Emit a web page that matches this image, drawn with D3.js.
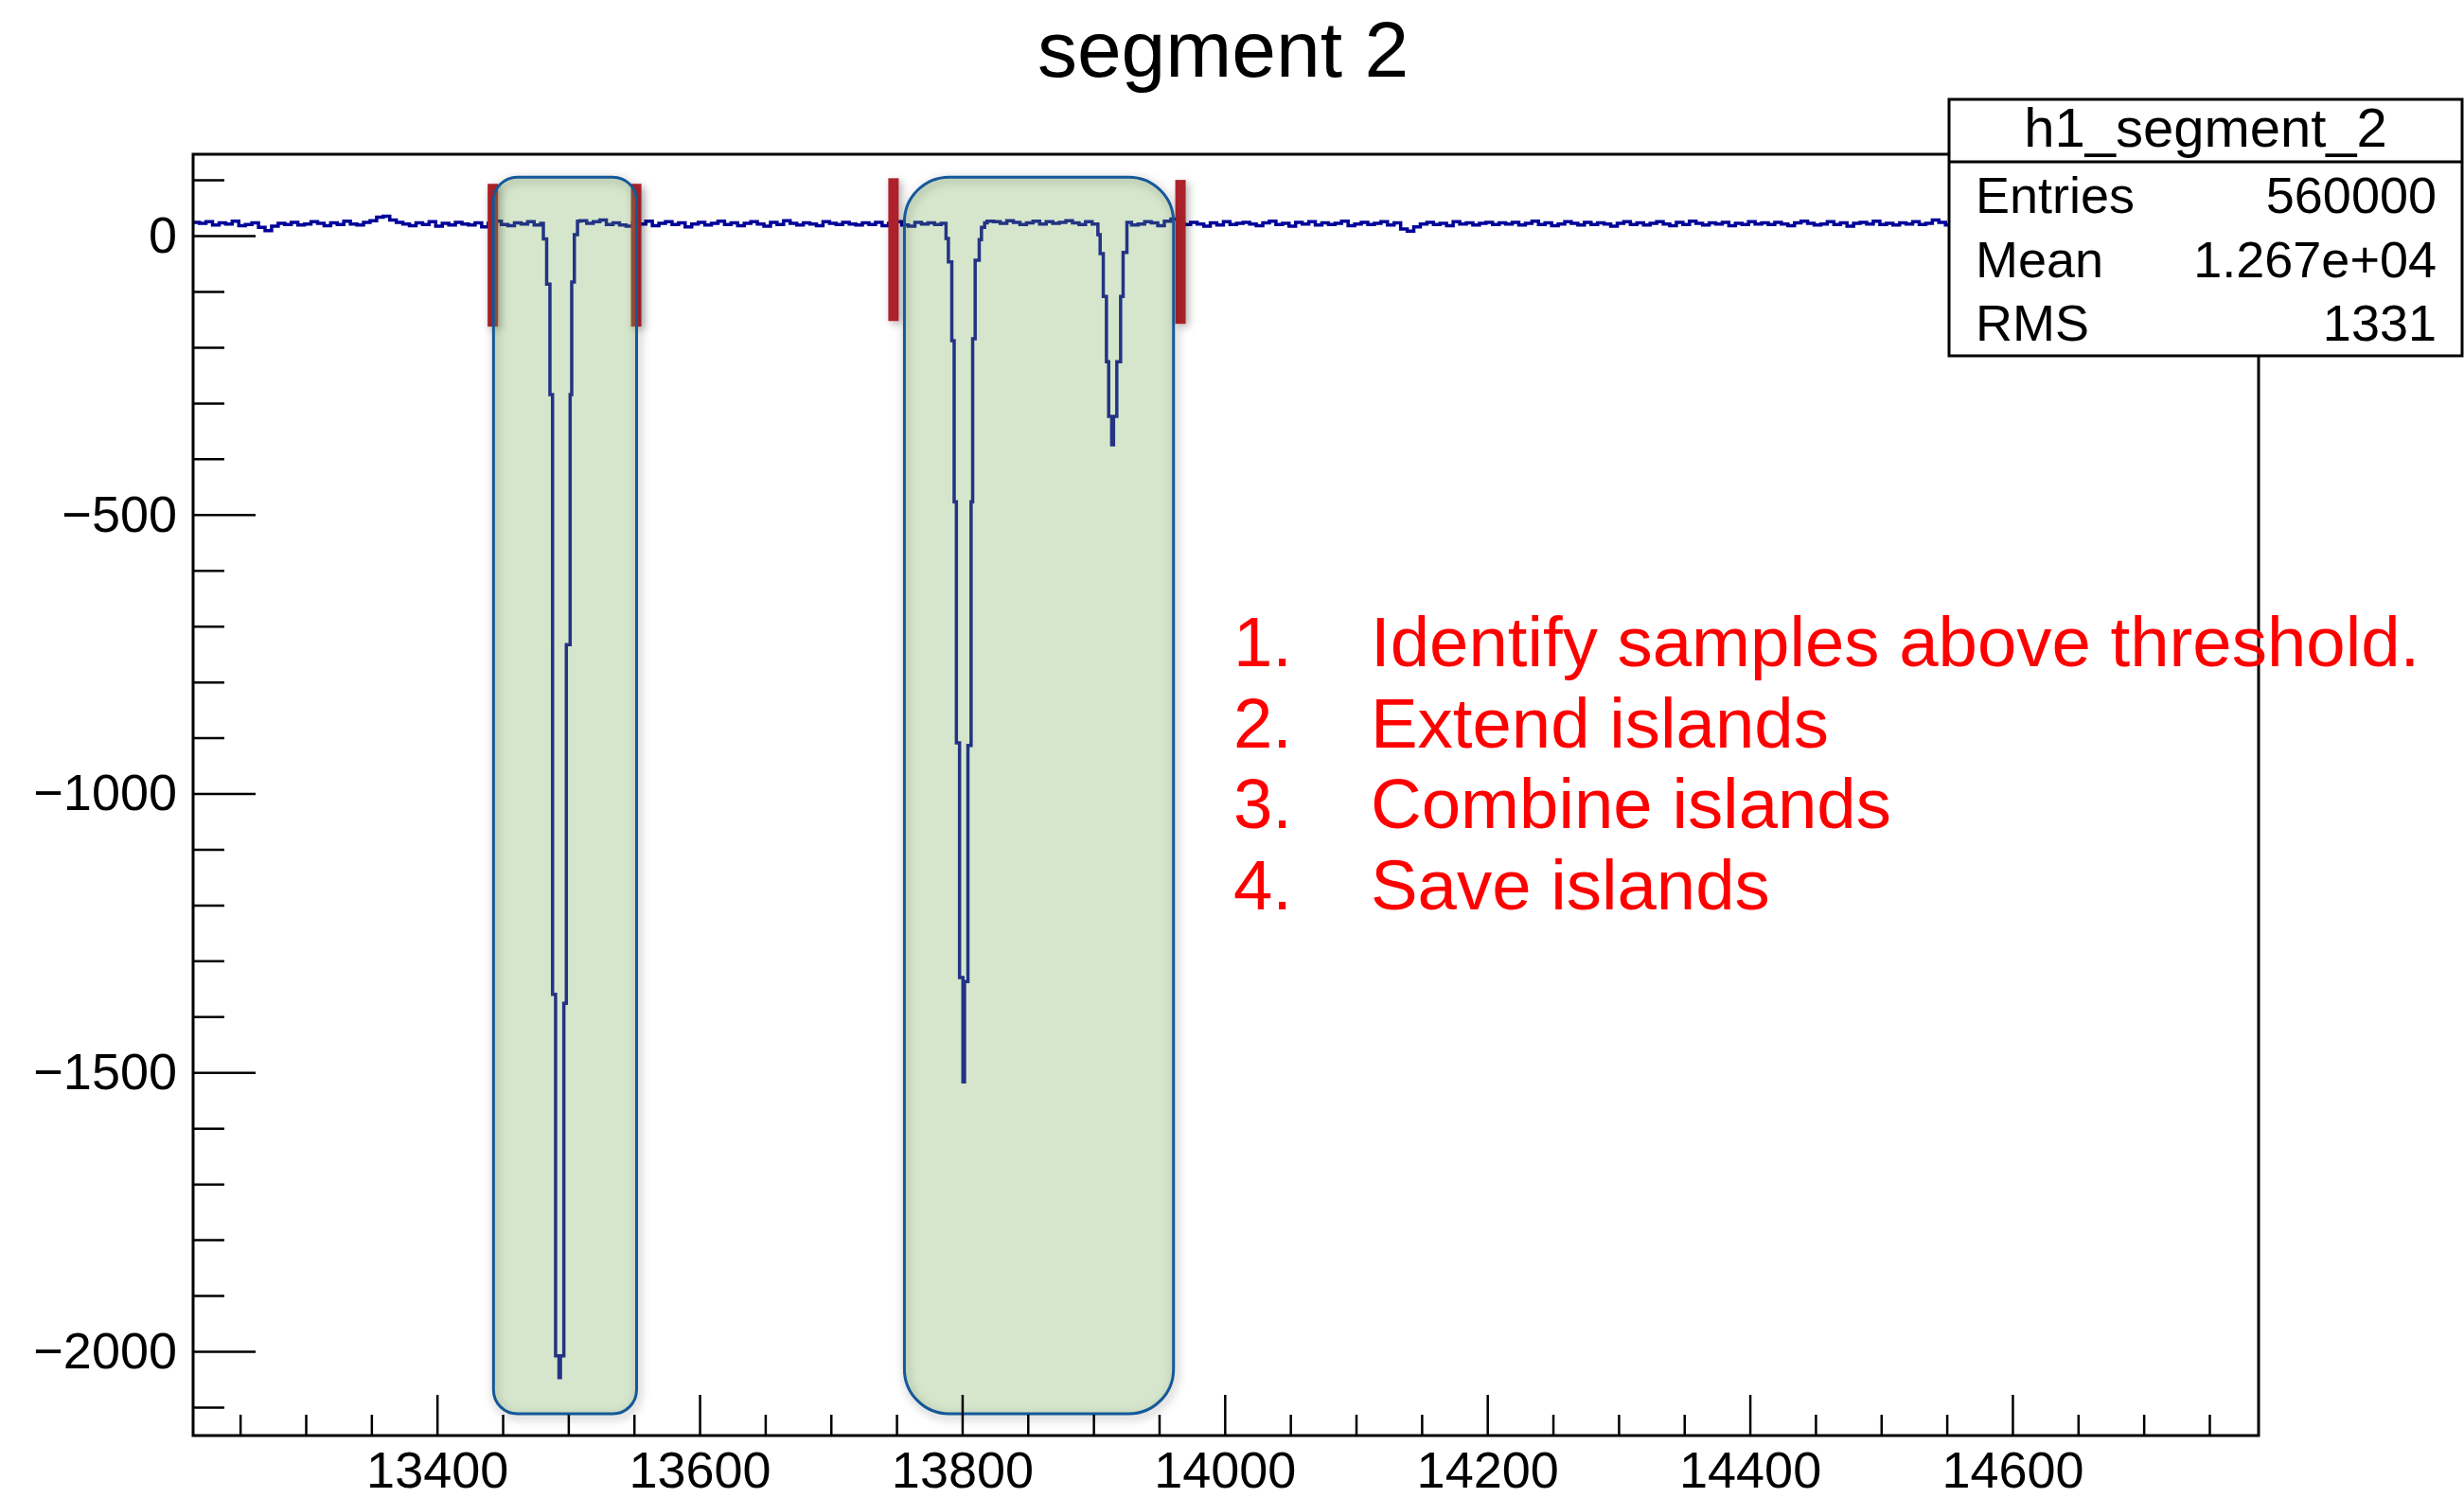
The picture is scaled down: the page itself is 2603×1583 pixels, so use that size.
<!DOCTYPE html>
<html>
<head>
<meta charset="utf-8">
<script src="https://cdn.jsdelivr.net/npm/d3@7"></script>
<style>
  body { margin: 0; background: #fff; }
  svg { display: block; }
  text { font-family: "Liberation Sans", Arial, Helvetica, sans-serif; }
</style>
</head>
<body>
<svg id="chart" width="2603" height="1583"></svg>
<script>
// ---- histogram content -------------------------------------------------
// pedestal noise, one value per 5-sample bin starting at 13214
const baseStart = 13214;
const baseWidth = 5;
const baseline = [
  24,22,25,19,23,21,26,18,20,23,15,9,17,22,20,24,19,21,25,22,
  18,23,20,26,21,19,24,27,33,35,28,24,21,18,23,20,25,17,22,19,
  24,21,19,23,16,22,26,20,18,23,21,25,19,22,20,24,18,21,26,27,
  22,25,28,20,23,19,17,24,21,26,18,22,25,20,23,16,21,24,19,22,
  26,20,23,18,22,25,21,17,24,20,27,22,19,23,21,18,25,22,20,24,
  21,19,23,20,24,18,22,25,19,17,24,21,23,20,22,19,26,24,22,21,
  23,26,25,22,27,24,20,23,26,21,25,22,24,27,23,20,25,21,19,23,
  22,20,24,19,21,25,23,18,26,30,22,20,24,21,17,23,19,25,20,22,
  24,21,18,23,26,20,22,17,24,21,25,19,23,20,22,26,18,21,24,20,
  22,25,19,23,12,8,16,21,24,20,22,18,25,21,23,19,22,24,20,23,
  21,24,19,22,26,20,23,18,21,25,22,19,24,20,23,21,17,22,25,20,
  23,19,22,25,21,18,24,20,26,22,19,23,21,24,18,22,20,25,21,23,
  20,24,21,18,23,26,22,19,21,25,20,23,17,22,24,21,26,20,22,19,
  23,21,25,20,22,28,24,19,23,21,26,22,20,24,21,18,23,25,22,20,
  22,19,24,21,23,20,25,22,18,23,21,24,20,22,26,21,19,23,22,20,
  24,21,23,20,22,25,19,23,21,24,20,22,23,21,22
];

// pulses: bin edges and contents
const pulse1Edges  = [13481, 13483.5, 13486, 13488, 13490.3, 13492.9, 13494, 13496.6, 13498.5, 13501.4, 13502.6, 13504.6, 13507];
const pulse1Values = [-6, -87, -285, -1360, -2008, -2047, -2008, -1376, -733, -285, -83, 2];

const pulse2Edges  = [13787.7, 13789.5, 13792.1, 13793.9, 13795.6, 13798, 13800.6, 13801.8, 13804.4, 13806.8, 13808, 13809.9, 13813, 13814.7, 13817.1];
const pulse2Values = [-5, -47, -188, -477, -909, -1330, -1517, -1337, -914, -477, -185, -44, -7, 15];

const pulse3Edges  = [13903.4, 13905.1, 13907.5, 13909.9, 13911.6, 13913.9, 13915.3, 13917.8, 13920.7, 13922.6, 13925.5];
const pulse3Values = [2, -32, -109, -226, -324, -375, -324, -226, -109, -30];

// island finding annotations
const islandBoxes = [[13443, 13552], [13756, 13961]];
const islandSpan = [105, -2112];
const thresholdMarks = [[13442.5, 93, -163], [13551.7, 93, -163], [13747.7, 103, -153], [13966.3, 100, -158]];

// axes
const xDomain = [13214.2, 14787.5];
const yDomain = [-2151, 146];
const xMajorTicks = [13400, 13600, 13800, 14000, 14200, 14400, 14600];
const yMajorTicks = [0, -500, -1000, -1500, -2000];

// texts
const chartTitle = "segment 2";
const statsName = "h1_segment_2";
const statsLabels = ["Entries", "Mean", "RMS"];
const statsValues = ["560000", "1.267e+04", "1331"];
const steps = ["Identify samples above threshold.", "Extend islands", "Combine islands", "Save islands"];

// ---- drawing ------------------------------------------------------------
const svg = d3.select("#chart");
const frame = { left: 204, right: 2386, top: 163, bottom: 1517 };

const x = d3.scaleLinear().domain(xDomain).range([frame.left, frame.right]);
const y = d3.scaleLinear().domain(yDomain).range([frame.bottom, frame.top]);

svg.append("rect").attr("width", 2603).attr("height", 1583).attr("fill", "#fff");

const defs = svg.append("defs");
defs.append("clipPath").attr("id", "frameClip")
  .append("rect")
  .attr("x", frame.left).attr("y", frame.top)
  .attr("width", frame.right - frame.left).attr("height", frame.bottom - frame.top);

const soft = defs.append("filter").attr("id", "soft")
  .attr("x", "-50%").attr("y", "-50%").attr("width", "200%").attr("height", "200%");
soft.append("feGaussianBlur").attr("stdDeviation", 5);

const shadow = defs.append("filter").attr("id", "shadow")
  .attr("x", "-200%").attr("y", "-30%").attr("width", "500%").attr("height", "160%");
shadow.append("feDropShadow").attr("dx", 3).attr("dy", 3).attr("stdDeviation", 4)
  .attr("flood-color", "#000").attr("flood-opacity", 0.3);

// merge pedestal bins with the finer pulse bins
function buildRuns() {
  let runs = baseline.map((v, i) => ({ x0: baseStart + i * baseWidth, x1: baseStart + (i + 1) * baseWidth, v }));
  const pulses = [[pulse1Edges, pulse1Values], [pulse2Edges, pulse2Values], [pulse3Edges, pulse3Values]];
  pulses.forEach(([edges, vals]) => {
    const p0 = edges[0], p1 = edges[edges.length - 1];
    const kept = [];
    runs.forEach(r => {
      if (r.x1 <= p0 || r.x0 >= p1) { kept.push(r); return; }
      if (r.x0 < p0) kept.push({ x0: r.x0, x1: p0, v: r.v });
      if (r.x1 > p1) kept.push({ x0: p1, x1: r.x1, v: r.v });
    });
    vals.forEach((v, i) => kept.push({ x0: edges[i], x1: edges[i + 1], v }));
    runs = kept.sort((a, b) => a.x0 - b.x0);
  });
  return runs;
}

const runs = buildRuns();
const pts = runs.flatMap(r => [[r.x0, r.v], [r.x1, r.v]]);
const line = d3.line().x(d => x(d[0])).y(d => y(d[1]));

svg.append("g").attr("clip-path", "url(#frameClip)")
  .append("path")
  .attr("d", line(pts))
  .attr("fill", "none")
  .attr("stroke", "#000099")
  .attr("stroke-width", 3.5)
  .attr("stroke-linejoin", "miter");

// threshold crossing markers
svg.append("g").selectAll("rect").data(thresholdMarks).join("rect")
  .attr("x", d => x(d[0]) - 5.5).attr("width", 11)
  .attr("y", d => y(d[1])).attr("height", d => y(d[2]) - y(d[1]))
  .attr("fill", "#ad232c")
  .attr("filter", "url(#shadow)");

// islands
const islands = svg.append("g");
islands.selectAll("rect.halo").data(islandBoxes).join("rect")
  .attr("class", "halo")
  .attr("x", d => x(d[0]) + 2).attr("y", y(islandSpan[0]) + 3)
  .attr("width", d => x(d[1]) - x(d[0])).attr("height", y(islandSpan[1]) - y(islandSpan[0]))
  .attr("rx", d => (x(d[1]) - x(d[0])) / 6)
  .attr("fill", "none").attr("stroke", "#000").attr("stroke-opacity", 0.18)
  .attr("stroke-width", 7).attr("filter", "url(#soft)");
islands.selectAll("rect.box").data(islandBoxes).join("rect")
  .attr("class", "box")
  .attr("x", d => x(d[0])).attr("y", y(islandSpan[0]))
  .attr("width", d => x(d[1]) - x(d[0])).attr("height", y(islandSpan[1]) - y(islandSpan[0]))
  .attr("rx", d => (x(d[1]) - x(d[0])) / 6)
  .attr("fill", "rgb(115,172,85)").attr("fill-opacity", 0.3)
  .attr("stroke", "#15589a").attr("stroke-width", 3);

// axes
const minus = d => d < 0 ? "\u2212" + (-d) : String(d);
const xMinor = d3.range(13250, 14800, 50).filter(v => !xMajorTicks.includes(v));
const yMinor = d3.range(100, -2200, -100).filter(v => !yMajorTicks.includes(v));

function styleAxis(g) {
  g.select(".domain").remove();
  g.selectAll(".tick line").attr("stroke", "#000").attr("stroke-width", 2.5);
  g.selectAll(".tick text").attr("font-size", 54).attr("fill", "#000")
    .style("font-family", "'Liberation Sans', Arial, Helvetica, sans-serif");
}

svg.append("g").attr("transform", `translate(0,${frame.bottom})`)
  .call(d3.axisBottom(x).tickValues(xMinor).tickSize(-22).tickFormat(""))
  .call(styleAxis);
svg.append("g").attr("transform", `translate(0,${frame.bottom})`)
  .call(d3.axisBottom(x).tickValues(xMajorTicks).tickSize(-43).tickPadding(17).tickFormat(d => String(d)))
  .call(styleAxis);
svg.append("g").attr("transform", `translate(${frame.left},0)`)
  .call(d3.axisLeft(y).tickValues(yMinor).tickSize(-33).tickFormat(""))
  .call(styleAxis);
svg.append("g").attr("transform", `translate(${frame.left},0)`)
  .call(d3.axisLeft(y).tickValues(yMajorTicks).tickSize(-66).tickPadding(17).tickFormat(minus))
  .call(styleAxis);

svg.append("rect")
  .attr("x", frame.left).attr("y", frame.top)
  .attr("width", frame.right - frame.left).attr("height", frame.bottom - frame.top)
  .attr("fill", "none").attr("stroke", "#000").attr("stroke-width", 3);

// statistics box
const stats = svg.append("g");
stats.append("rect").attr("x", 2059).attr("y", 105).attr("width", 542).attr("height", 271)
  .attr("fill", "#fff").attr("stroke", "#000").attr("stroke-width", 3);
stats.append("line").attr("x1", 2059).attr("x2", 2601).attr("y1", 171).attr("y2", 171)
  .attr("stroke", "#000").attr("stroke-width", 3);
stats.append("text").attr("x", 2330).attr("y", 155).attr("text-anchor", "middle")
  .attr("font-size", 58).text(statsName);
stats.selectAll("text.lab").data(statsLabels).join("text").attr("class", "lab")
  .attr("x", 2087).attr("y", (d, i) => 225 + i * 67.5).attr("font-size", 54).text(d => d);
stats.selectAll("text.val").data(statsValues).join("text").attr("class", "val")
  .attr("x", 2574).attr("y", (d, i) => 225 + i * 67.5).attr("text-anchor", "end")
  .attr("font-size", 54).text(d => d);

// title
svg.append("text").attr("x", 1292).attr("y", 81).attr("text-anchor", "middle")
  .attr("font-size", 84).attr("fill", "#000").text(chartTitle);

// algorithm steps
const notes = svg.append("g").attr("fill", "#ff0000").attr("font-size", 74.4);
notes.selectAll("text.num").data(steps).join("text").attr("class", "num")
  .attr("x", 1303).attr("y", (d, i) => 704 + i * 85.5).text((d, i) => (i + 1) + ".");
notes.selectAll("text.step").data(steps).join("text").attr("class", "step")
  .attr("x", 1448).attr("y", (d, i) => 704 + i * 85.5).text(d => d);
</script>
</body>
</html>
